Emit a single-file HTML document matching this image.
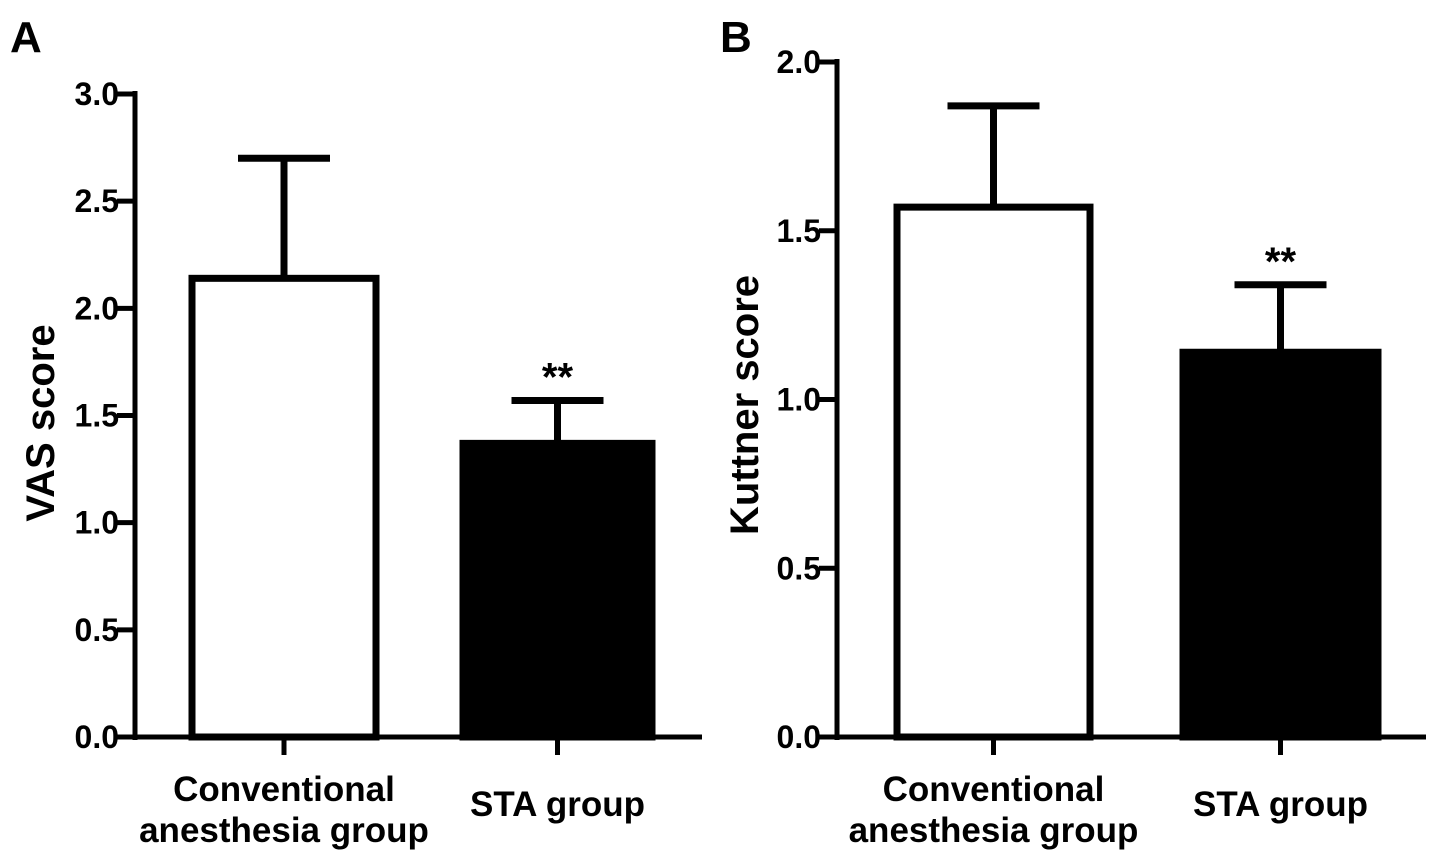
<!DOCTYPE html>
<html><head><meta charset="utf-8"><style>
body{margin:0;background:#fff;}
svg text{font-family:"Liberation Sans",Arial,sans-serif;font-weight:bold;fill:#000;}
</style></head><body>
<svg id="chart" width="1441" height="863" viewBox="0 0 1441 863" xmlns="http://www.w3.org/2000/svg"></svg>
<script>
const categories = ["Conventional|anesthesia group", "STA group"];
const vasMeans = [2.14, 1.37];
const vasErrors = [0.56, 0.20];
const kuttnerMeans = [1.57, 1.14];
const kuttnerErrors = [0.30, 0.20];
const vasTicks = ["0.0","0.5","1.0","1.5","2.0","2.5","3.0"];
const kuttnerTicks = ["0.0","0.5","1.0","1.5","2.0"];
const sigLabels = ["", "**"];

const NS = "http://www.w3.org/2000/svg";
const svg = document.getElementById("chart");
function mk(tag, attrs, parent){
  const e = document.createElementNS(NS, tag);
  for (const k in attrs) e.setAttribute(k, attrs[k]);
  (parent||svg).appendChild(e);
  return e;
}

function panel(cfg){
  const g = mk("g", {});
  
  
  const ymax = cfg.ticks.length - 1;
  const y = v => cfg.y0 - (v / (ymax*0.5)) * (cfg.y0 - cfg.yTop);
  const ya = mk("line", {x1:cfg.ax, y1:cfg.yTop-3, x2:cfg.ax, y2:cfg.y0+3, stroke:"#000","stroke-width":5}, g);
  
  
  const xa = mk("line", {x1:cfg.ax-2, y1:cfg.y0, x2:cfg.axEnd, y2:cfg.y0, stroke:"#000","stroke-width":5}, g);
  
  
  cfg.ticks.forEach((t,i)=>{
    const v = i*0.5, yy = y(v);
    mk("line", {x1:cfg.ax-18, y1:yy, x2:cfg.ax, y2:yy, stroke:"#000","stroke-width":5}, g);
    const tx = mk("text", {x:cfg.ax-16, y:yy+11, "font-size":32, "text-anchor":"end"}, g);
    tx.textContent = t;
    
    
  });
  cfg.means.forEach((m,i)=>{
    const [x1,x2] = cfg.bars[i];
    const cx = (x1+x2)/2;
    const eTop = y(m + cfg.errs[i]);
    const el = mk("line", {x1:cx, y1:eTop, x2:cx, y2:y(m), stroke:"#000","stroke-width":7}, g);
    
    
    mk("line", {x1:cx-46, y1:eTop, x2:cx+46, y2:eTop, stroke:"#000","stroke-width":7}, g);
    const r = mk("rect", {x:x1, y:y(m), width:x2-x1, height:cfg.y0-y(m), fill:i===0?"#fff":"#000", stroke:"#000","stroke-width":7}, g);
    
    
    mk("line", {x1:cx, y1:cfg.y0, x2:cx, y2:cfg.y0+18, stroke:"#000","stroke-width":5}, g);
    const lines = categories[i].split("|");
    lines.forEach((ln,j)=>{
      const ty = lines.length>1 ? 801 + j*41 : 816;
      const t = mk("text", {x:cx, y:ty, "font-size":35, "text-anchor":"middle"}, g);
      t.textContent = ln;
      
      
    });
    if (sigLabels[i]) {
      const s = mk("text", {x:cx, y:eTop-10, "font-size":40, "text-anchor":"middle"}, g);
      s.textContent = sigLabels[i];
      
      
    }
  });
  const yt = mk("text", {x:0, y:0, "font-size":cfg.titleSize, "text-anchor":"middle", transform:`translate(${cfg.titleX},${cfg.titleY}) rotate(-90)`}, g);
  yt.textContent = cfg.title;
  
  
  const pl = mk("text", {x:cfg.letterX, y:52, "font-size":44}, g);
  pl.textContent = cfg.letter;
  
  
}

panel({name:"panel-a", ax:135, axEnd:702, y0:737, yTop:94, ticks:vasTicks, means:vasMeans, errs:vasErrors,
  bars:[[192,376],[463,652]], title:"VAS score", titleSize:40, titleX:54, titleY:423, letter:"A", letterX:10});
panel({name:"panel-b", ax:837, axEnd:1426, y0:737, yTop:62, ticks:kuttnerTicks, means:kuttnerMeans, errs:kuttnerErrors,
  bars:[[897,1090],[1183,1378]], title:"Kuttner score", titleSize:40, titleX:758, titleY:405, letter:"B", letterX:720});
</script>
</body></html>
